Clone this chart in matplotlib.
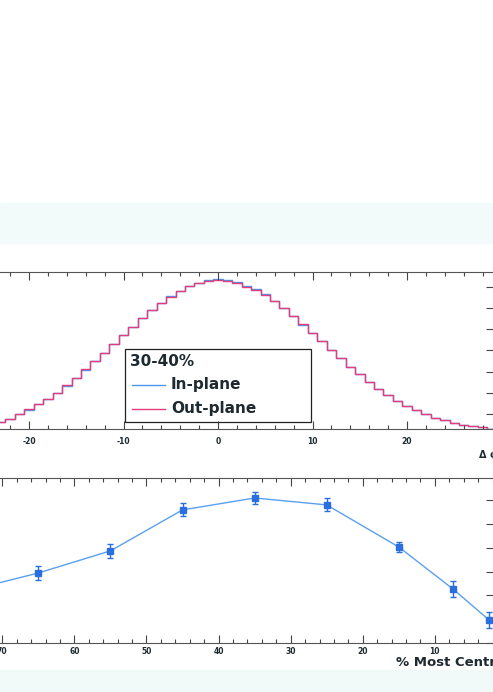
import numpy as np
import matplotlib
matplotlib.use('Agg')
import matplotlib.pyplot as plt
from matplotlib.patches import Rectangle
from matplotlib.lines import Line2D
from matplotlib.ticker import MultipleLocator, FixedLocator

plt.rcParams['font.family'] = ['DejaVu Sans']
plt.rcParams['font.weight'] = 'bold'
plt.rcParams['axes.unicode_minus'] = False

W, H = 493, 692

def fx(x):
    return x / W

def fy(y):
    return 1 - y / H

# Delta phi distribution, 30-40% centrality (bins of width 1)
dphi_bins = np.arange(-23, 30)
in_plane = [0.33, 0.49, 0.73, 0.92, 1.16, 1.40, 1.72, 2.05, 2.40, 2.80,
            3.20, 3.59, 4.02, 4.43, 4.83, 5.23, 5.62, 5.97, 6.26, 6.53,
            6.77, 6.90, 7.01, 7.08, 7.02, 6.94, 6.76, 6.61, 6.36, 6.05,
            5.71, 5.32, 4.93, 4.54, 4.15, 3.71, 3.33, 2.93, 2.59, 2.23,
            1.89, 1.61, 1.34, 1.07, 0.92, 0.73, 0.54, 0.42, 0.30, 0.19,
            0.12, 0.08, 0.02]
out_plane = [0.33, 0.49, 0.73, 0.93, 1.16, 1.41, 1.72, 2.06, 2.40, 2.81,
             3.21, 3.61, 4.03, 4.44, 4.83, 5.23, 5.61, 5.96, 6.25, 6.51,
             6.74, 6.88, 6.99, 7.03, 6.97, 6.87, 6.72, 6.58, 6.34, 6.04,
             5.71, 5.33, 4.94, 4.55, 4.16, 3.73, 3.34, 2.94, 2.59, 2.23,
             1.89, 1.61, 1.34, 1.08, 0.92, 0.73, 0.54, 0.42, 0.30, 0.19,
             0.12, 0.08, 0.02]

# centrality dependence
centrality = [75, 65, 55, 45, 35, 25, 15, 7.5, 2.5]
value = [2.18, 2.94, 3.87, 5.59, 6.09, 5.80, 4.03, 2.27, 0.97]
value_err = [0.33, 0.31, 0.29, 0.27, 0.25, 0.27, 0.22, 0.34, 0.35]

blue = '#4a98ec'
red = '#e43c7c'
dark = '#1e2a30'

fig = plt.figure(figsize=(W / 100, H / 100), dpi=100)

# faint scan bands
fig.patches.append(Rectangle((0, fy(243)), 1, 40 / H, transform=fig.transFigure,
                             color='#f2fbfa', zorder=0))
fig.patches.append(Rectangle((0, 0), 1, 22 / H, transform=fig.transFigure,
                             color='#f1f9f9', zorder=0))

# top panel (left edge lies outside the picture)
ax1 = fig.add_axes([fx(-56), fy(429), (494 + 56) / W, (429 - 272) / H])
ax1.patch.set_alpha(0)
edges = np.append(dphi_bins - 0.5, dphi_bins[-1] + 0.5)
ax1.stairs(in_plane, edges, color=blue, lw=1.0)
ax1.stairs(out_plane, edges, color=red, lw=1.0)
ax1.set_xlim(-29, 29.2)
ax1.set_ylim(0, 7.41)
ax1.xaxis.set_major_locator(MultipleLocator(10))
ax1.xaxis.set_minor_locator(MultipleLocator(2))
ax1.yaxis.set_major_locator(FixedLocator(np.arange(0.71, 7.4, 1.0)))
ax1.tick_params(which='both', direction='in', top=True, right=True,
                labelleft=False, colors='#444', labelcolor=dark,
                labelsize=5.5, width=0.8)
ax1.tick_params(axis='x', pad=6)
ax1.tick_params(which='major', length=6)
ax1.tick_params(which='minor', length=3)
for s in ax1.spines.values():
    s.set_color('#555')
    s.set_linewidth(0.8)

# legend box
fig.patches.append(Rectangle((fx(125), fy(422)), (311 - 125) / W, (422 - 349) / H,
                             transform=fig.transFigure, fill=False,
                             ec='#222', lw=0.9, zorder=5))
fig.text(fx(130), fy(362), '30-40%', fontsize=11, color=dark, va='center', ha='left')
fig.lines.append(Line2D([fx(132), fx(165)], [fy(385), fy(385)],
                        transform=fig.transFigure, color=blue, lw=1.0))
fig.lines.append(Line2D([fx(132), fx(165)], [fy(409), fy(409)],
                        transform=fig.transFigure, color=red, lw=1.0))
fig.text(fx(171), fy(385), 'In-plane', fontsize=11, color=dark, va='center', ha='left')
fig.text(fx(171), fy(408), 'Out-plane', fontsize=11, color=dark, va='center', ha='left')

fig.text(fx(479), fy(455), 'Δ φ', fontsize=7, color=dark, va='center', ha='left')

# bottom panel (reversed centrality axis)
ax2 = fig.add_axes([fx(-62.6), fy(643), (494 + 62.6) / W, (643 - 478) / H])
ax2.patch.set_alpha(0)
ax2.plot(centrality, value, color='#5aa0f0', lw=1)
ax2.errorbar(centrality, value, yerr=value_err, fmt='s', color='#2a6fe0',
             ms=5, capsize=2, elinewidth=1, capthick=1)
ax2.set_xlim(79, 1.8)
ax2.set_ylim(0, 6.93)
ax2.xaxis.set_major_locator(MultipleLocator(10))
ax2.xaxis.set_minor_locator(MultipleLocator(2))
ax2.yaxis.set_major_locator(MultipleLocator(1))
ax2.tick_params(which='both', direction='in', top=True, right=True,
                labelleft=False, colors='#444', labelcolor=dark,
                labelsize=5.5, width=0.8)
ax2.tick_params(axis='x', pad=3)
ax2.tick_params(which='major', length=6)
ax2.tick_params(which='minor', length=3)
for s in ax2.spines.values():
    s.set_color('#555')
    s.set_linewidth(0.8)

fig.text(fx(396), fy(662), '% Most Central', fontsize=9.5, color=dark,
         va='center', ha='left')

fig.savefig('out.png', dpi=100)
